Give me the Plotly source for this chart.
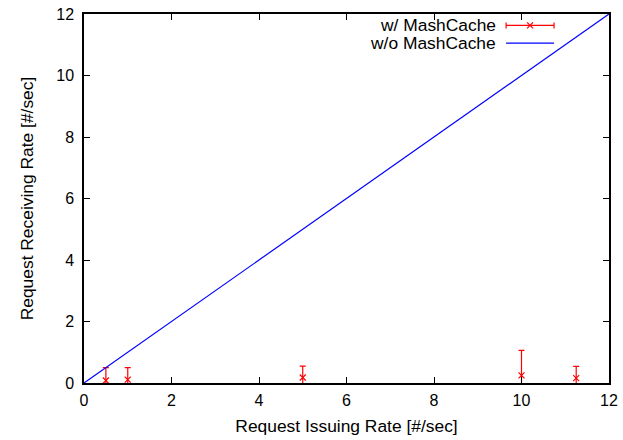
import plotly.graph_objects as go

# Data
issuing_rate = [0.5, 1, 5, 10, 11.25]
receiving_rate = [0.08, 0.11, 0.18, 0.25, 0.16]
receiving_err = [0.42, 0.39, 0.37, 0.81, 0.38]
ideal_x = [0, 12]
ideal_y = [0, 12]
tick_vals = [0, 2, 4, 6, 8, 10, 12]
series_names = ["w/ MashCache", "w/o MashCache"]

W, H = 623, 440
ML, MR, MT, MB = 83.5, 14, 14.3, 57.3
FONT = "Liberation Sans, Arial, Helvetica, sans-serif"

fig = go.Figure()
fig.add_trace(go.Scatter(
    x=issuing_rate, y=receiving_rate, mode="markers", name=series_names[0],
    marker=dict(symbol="x-thin", size=6, line=dict(color="#ff0000", width=1.2), color="#ff0000"),
    error_y=dict(type="data", array=receiving_err, symmetric=True, color="#ff0000",
                 thickness=1.2, width=3),
    showlegend=False,
))
fig.add_trace(go.Scatter(
    x=ideal_x, y=ideal_y, mode="lines", name=series_names[1],
    line=dict(color="#0000ff", width=1.2), showlegend=False,
))

axis_common = dict(
    range=[0, 12], tickvals=tick_vals, ticks="inside", ticklen=6, tickwidth=1,
    tickcolor="black", showline=True, linecolor="black", linewidth=1.5,
    mirror="ticks", showgrid=False, zeroline=False, automargin=False,
    tickfont=dict(family=FONT, size=16, color="black"),
)
fig.update_xaxes(**axis_common, ticklabelstandoff=2,
                 title=dict(text="Request Issuing Rate [#/sec]", font=dict(family=FONT, size=17.4, color="black"), standoff=12))
fig.update_yaxes(**axis_common, ticklabelstandoff=5,
                 title=dict(text="Request Receiving Rate [#/sec]", font=dict(family=FONT, size=17.4, color="black"), standoff=18))

# Gnuplot-style key (text then sample), in paper coordinates
pw = W - ML - MR
ph = H - MT - MB
def px(x):
    return (x - ML) / pw
def py(y):
    return 1 - (y - MT) / ph

rows = [25.7, 43.3]
text_right = 498
s0, s1 = 506, 554
for name, yy in zip(series_names, rows):
    fig.add_annotation(x=px(text_right), y=py(yy), xref="paper", yref="paper",
                       text=name, showarrow=False, xanchor="right", yanchor="middle",
                       font=dict(family=FONT, size=17.4, color="black"))
# error bar sample
r = rows[0]
fig.add_shape(type="line", xref="paper", yref="paper", x0=px(s0), x1=px(s1), y0=py(r), y1=py(r),
              line=dict(color="#ff0000", width=1.2))
for sx in (s0, s1):
    fig.add_shape(type="line", xref="paper", yref="paper", x0=px(sx), x1=px(sx), y0=py(r - 3), y1=py(r + 3),
                  line=dict(color="#ff0000", width=1.2))
cx = (s0 + s1) / 2
fig.add_shape(type="line", xref="paper", yref="paper", x0=px(cx - 3), x1=px(cx + 3), y0=py(r - 3), y1=py(r + 3),
              line=dict(color="#ff0000", width=1.2))
fig.add_shape(type="line", xref="paper", yref="paper", x0=px(cx - 3), x1=px(cx + 3), y0=py(r + 3), y1=py(r - 3),
              line=dict(color="#ff0000", width=1.2))
r = rows[1]
fig.add_shape(type="line", xref="paper", yref="paper", x0=px(s0), x1=px(s1), y0=py(r), y1=py(r),
              line=dict(color="#0000ff", width=1.2))

fig.update_layout(
    width=W, height=H, autosize=False,
    margin=dict(l=ML, r=MR, t=MT, b=MB, pad=0),
    paper_bgcolor="white", plot_bgcolor="white",
    font=dict(family=FONT, size=17, color="black"),
)

fig.write_html("out.html", config={"displayModeBar": False},
               post_script="document.body.style.margin='0';document.body.style.overflow='hidden';")
